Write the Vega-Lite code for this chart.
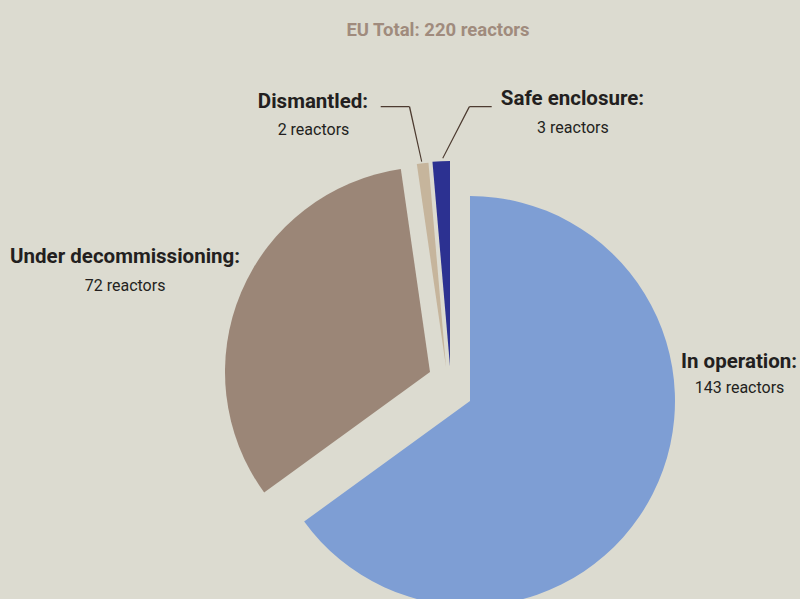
{
  "$schema": "https://vega.github.io/schema/vega-lite/v6.json",
  "width": 800,
  "height": 599,
  "autosize": {"type": "none"},
  "padding": 0,
  "background": "#dcdbd0",
  "title": {
    "text": "EU Total: 220 reactors",
    "font": "Roboto",
    "fontSize": 18.5,
    "fontWeight": "bold",
    "color": "#a08b7d",
    "anchor": "middle",
    "frame": "group",
    "dx": 38,
    "offset": -54,
    "baseline": "alphabetic"
  },
  "config": {"view": {"stroke": null}},
  "data": {
    "values": [
      {"category": "In operation", "count": 143, "rank": 1},
      {"category": "Under decommissioning", "count": 72, "rank": 2},
      {"category": "Dismantled", "count": 2, "rank": 3},
      {"category": "Safe enclosure", "count": 3, "rank": 4}
    ]
  },
  "layer": [
    {
      "mark": {"type": "arc", "radius": 205, "xOffset": 70, "yOffset": 101.5},
      "encoding": {
        "theta": {"field": "count", "type": "quantitative", "stack": true},
        "order": {"field": "rank", "type": "quantitative"},
        "color": {"field": "category", "type": "nominal", "legend": null,
          "scale": {"domain": ["In operation", "Under decommissioning", "Dismantled", "Safe enclosure"],
                    "range": ["#7e9ed4", "#9b8677", "#c6b59c", "#2c3191"]}},
        "opacity": {"condition": {"test": "datum.category === 'In operation'", "value": 1}, "value": 0}
      }
    },
    {
      "mark": {"type": "arc", "radius": 205, "xOffset": 30, "yOffset": 72.5},
      "encoding": {
        "theta": {"field": "count", "type": "quantitative", "stack": true},
        "order": {"field": "rank", "type": "quantitative"},
        "color": {"field": "category", "type": "nominal", "legend": null},
        "opacity": {"condition": {"test": "datum.category === 'Under decommissioning'", "value": 1}, "value": 0}
      }
    },
    {
      "mark": {"type": "arc", "radius": 205, "xOffset": 46, "yOffset": 67.5},
      "encoding": {
        "theta": {"field": "count", "type": "quantitative", "stack": true},
        "order": {"field": "rank", "type": "quantitative"},
        "color": {"field": "category", "type": "nominal", "legend": null},
        "opacity": {"condition": {"test": "datum.category === 'Dismantled'", "value": 1}, "value": 0}
      }
    },
    {
      "mark": {"type": "arc", "radius": 205, "xOffset": 50, "yOffset": 66.5},
      "encoding": {
        "theta": {"field": "count", "type": "quantitative", "stack": true},
        "order": {"field": "rank", "type": "quantitative"},
        "color": {"field": "category", "type": "nominal", "legend": null},
        "opacity": {"condition": {"test": "datum.category === 'Safe enclosure'", "value": 1}, "value": 0}
      }
    },
    {
      "transform": [{"filter": "datum.category === 'Dismantled'"}],
      "mark": {"type": "arc", "theta": 6.0628, "theta2": 6.0682, "radius": 256.5, "radius2": 200, "xOffset": 64.9, "yOffset": 57.5, "fill": "#4d3b30"},
      "encoding": {}
    },
    {
      "transform": [{"filter": "datum.category === 'Dismantled'"}],
      "mark": {"type": "arc", "theta": 4.7104, "theta2": 4.7144, "radius": 328.8, "radius2": 300, "xOffset": 309.5, "yOffset": -192.8, "fill": "#4d3b30"},
      "encoding": {}
    },
    {
      "transform": [{"filter": "datum.category === 'Safe enclosure'"}],
      "mark": {"type": "arc", "theta": 0.4733, "theta2": 0.4787, "radius": 258, "radius2": 200, "xOffset": -48.9, "yOffset": 36.6, "fill": "#4d3b30"},
      "encoding": {}
    },
    {
      "transform": [{"filter": "datum.category === 'Safe enclosure'"}],
      "mark": {"type": "arc", "theta": 1.5688, "theta2": 1.5728, "radius": 322.4, "radius2": 300, "xOffset": -230.7, "yOffset": -192.8, "fill": "#4d3b30"},
      "encoding": {}
    },
    {
      "mark": {"type": "text", "radius": 230, "dx": 134.1, "dy": -36.4, "font": "Roboto", "fontSize": 20.5, "fontWeight": "bold", "color": "#231f20", "align": "center", "baseline": "alphabetic", "text": {"expr": "datum.category + ':'"}},
      "encoding": {
        "theta": {"field": "count", "type": "quantitative", "stack": true},
        "order": {"field": "rank", "type": "quantitative"},
        "detail": {"field": "category", "type": "nominal"},
        "opacity": {"condition": {"test": "datum.category === 'In operation'", "value": 1}, "value": 0}
      }
    },
    {
      "mark": {"type": "text", "radius": 230, "dx": 134.6, "dy": -10.9, "font": "Roboto", "fontSize": 16, "color": "#231f20", "align": "center", "baseline": "alphabetic", "text": {"expr": "datum.count + ' reactors'"}},
      "encoding": {
        "theta": {"field": "count", "type": "quantitative", "stack": true},
        "order": {"field": "rank", "type": "quantitative"},
        "detail": {"field": "category", "type": "nominal"},
        "opacity": {"condition": {"test": "datum.category === 'In operation'", "value": 1}, "value": 0}
      }
    },
    {
      "mark": {"type": "text", "radius": 230, "dx": -63.1, "dy": 53.3, "font": "Roboto", "fontSize": 20.5, "fontWeight": "bold", "color": "#231f20", "align": "center", "baseline": "alphabetic", "text": {"expr": "datum.category + ':'"}},
      "encoding": {
        "theta": {"field": "count", "type": "quantitative", "stack": true},
        "order": {"field": "rank", "type": "quantitative"},
        "detail": {"field": "category", "type": "nominal"},
        "opacity": {"condition": {"test": "datum.category === 'Under decommissioning'", "value": 1}, "value": 0}
      }
    },
    {
      "mark": {"type": "text", "radius": 230, "dx": -63.1, "dy": 81, "font": "Roboto", "fontSize": 16, "color": "#231f20", "align": "center", "baseline": "alphabetic", "text": {"expr": "datum.count + ' reactors'"}},
      "encoding": {
        "theta": {"field": "count", "type": "quantitative", "stack": true},
        "order": {"field": "rank", "type": "quantitative"},
        "detail": {"field": "category", "type": "nominal"},
        "opacity": {"condition": {"test": "datum.category === 'Under decommissioning'", "value": 1}, "value": 0}
      }
    },
    {
      "mark": {"type": "text", "radius": 230, "dx": -60.8, "dy": 36.7, "font": "Roboto", "fontSize": 20.5, "fontWeight": "bold", "color": "#231f20", "align": "center", "baseline": "alphabetic", "text": {"expr": "datum.category + ':'"}},
      "encoding": {
        "theta": {"field": "count", "type": "quantitative", "stack": true},
        "order": {"field": "rank", "type": "quantitative"},
        "detail": {"field": "category", "type": "nominal"},
        "opacity": {"condition": {"test": "datum.category === 'Dismantled'", "value": 1}, "value": 0}
      }
    },
    {
      "mark": {"type": "text", "radius": 230, "dx": -60.3, "dy": 64.5, "font": "Roboto", "fontSize": 16, "color": "#231f20", "align": "center", "baseline": "alphabetic", "text": {"expr": "datum.count + ' reactors'"}},
      "encoding": {
        "theta": {"field": "count", "type": "quantitative", "stack": true},
        "order": {"field": "rank", "type": "quantitative"},
        "detail": {"field": "category", "type": "nominal"},
        "opacity": {"condition": {"test": "datum.category === 'Dismantled'", "value": 1}, "value": 0}
      }
    },
    {
      "mark": {"type": "text", "radius": 230, "dx": 182.3, "dy": 35.3, "font": "Roboto", "fontSize": 20.5, "fontWeight": "bold", "color": "#231f20", "align": "center", "baseline": "alphabetic", "text": {"expr": "datum.category + ':'"}},
      "encoding": {
        "theta": {"field": "count", "type": "quantitative", "stack": true},
        "order": {"field": "rank", "type": "quantitative"},
        "detail": {"field": "category", "type": "nominal"},
        "opacity": {"condition": {"test": "datum.category === 'Safe enclosure'", "value": 1}, "value": 0}
      }
    },
    {
      "mark": {"type": "text", "radius": 230, "dx": 182.8, "dy": 63.3, "font": "Roboto", "fontSize": 16, "color": "#231f20", "align": "center", "baseline": "alphabetic", "text": {"expr": "datum.count + ' reactors'"}},
      "encoding": {
        "theta": {"field": "count", "type": "quantitative", "stack": true},
        "order": {"field": "rank", "type": "quantitative"},
        "detail": {"field": "category", "type": "nominal"},
        "opacity": {"condition": {"test": "datum.category === 'Safe enclosure'", "value": 1}, "value": 0}
      }
    }
  ]
}
